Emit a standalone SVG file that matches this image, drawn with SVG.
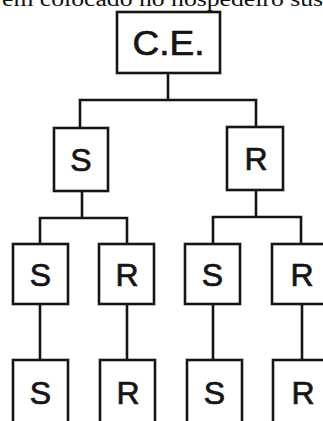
<svg xmlns="http://www.w3.org/2000/svg" width="323" height="421" viewBox="0 0 323 421">
<style>
.box{fill:#fff;stroke:#151515;stroke-width:2.6}
.lbl{font-family:"Liberation Sans",Arial,sans-serif;fill:#151515;stroke:#151515;stroke-width:0.7;text-anchor:middle;font-size:32px}
.con{fill:none;stroke:#151515;stroke-width:2.6}
.cap{font-family:"Liberation Serif","Times New Roman",serif;fill:#111;font-size:20px}
</style>
<rect width="323" height="421" fill="#fff"/>
<text class="cap" x="2" y="6" textLength="321" lengthAdjust="spacingAndGlyphs">em colocado no hospedeiro sus</text>
<g id="connectors" class="con">
<path d="M168 73V100M80 128V100H256V127"/>
<path d="M82 191V218M40 244V218H127V244"/>
<path d="M256 190V217M213 244V217H301V244"/>
<path d="M40 304V360M127 304V360M213 304V360M302 304V360"/>
</g>
<g id="ce"><rect class="box" x="117" y="12" width="103" height="61"/><text class="lbl" x="168.5" y="55" style="font-size:35px" textLength="72" lengthAdjust="spacingAndGlyphs">C.E.</text></g>
<g id="s1"><rect class="box" x="54" y="128" width="54" height="63"/><text class="lbl" x="81" y="171">S</text></g>
<g id="r1"><rect class="box" x="227" y="127" width="56" height="63"/><text class="lbl" x="256" y="170">R</text></g>
<g id="s2"><rect class="box" x="13" y="244" width="55" height="60"/><text class="lbl" x="40.5" y="286">S</text></g>
<g id="r2"><rect class="box" x="99" y="244" width="55" height="60"/><text class="lbl" x="127" y="286">R</text></g>
<g id="s3"><rect class="box" x="185" y="244" width="55" height="60"/><text class="lbl" x="212.5" y="286">S</text></g>
<g id="r3"><rect class="box" x="272" y="244" width="56" height="60"/><text class="lbl" x="302" y="286">R</text></g>
<g id="s4"><rect class="box" x="13" y="360" width="55" height="70"/><text class="lbl" x="40.5" y="404">S</text></g>
<g id="r4"><rect class="box" x="100" y="360" width="55" height="70"/><text class="lbl" x="128" y="404">R</text></g>
<g id="s5"><rect class="box" x="187" y="360" width="55" height="70"/><text class="lbl" x="214.5" y="404">S</text></g>
<g id="r5"><rect class="box" x="273" y="360" width="56" height="70"/><text class="lbl" x="303" y="404">R</text></g>
</svg>
